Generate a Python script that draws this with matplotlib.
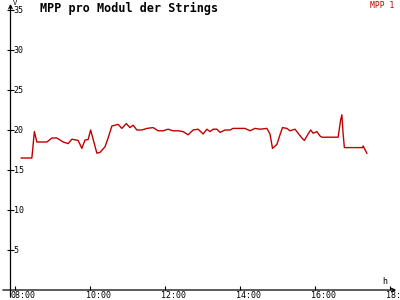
import matplotlib
matplotlib.use("Agg")
import matplotlib.pyplot as plt

# MPP pro Modul (V), Zeitpunkte als HH:MM
times = ["08:10", "08:27", "08:31", "08:35", "08:51", "08:59", "09:07", "09:17", "09:25", "09:31",
         "09:41", "09:47", "09:52", "09:57", "10:01", "10:11", "10:16", "10:24", "10:29", "10:35",
         "10:40", "10:45", "10:51", "10:58", "11:04", "11:09", "11:15", "11:23", "11:31", "11:41",
         "11:49", "11:57", "12:05", "12:13", "12:21", "12:29", "12:37", "12:45", "12:53", "13:01",
         "13:07", "13:12", "13:17", "13:23", "13:28", "13:36", "13:44", "13:49", "14:00", "14:08",
         "14:16", "14:24", "14:32", "14:43", "14:48", "14:52", "14:59", "15:04", "15:08", "15:15",
         "15:20", "15:28", "15:33", "15:39", "15:43", "15:49", "15:53", "15:57", "16:03", "16:08",
         "16:11", "16:37", "16:41", "16:43", "16:45", "16:47", "17:16", "17:17", "17:23"]
mpp1 = [16.5, 16.5, 19.8, 18.5, 18.5, 19.0, 19.0, 18.5, 18.3, 18.85,
        18.7, 17.7, 18.75, 18.8, 20.0, 17.1, 17.2, 17.9, 19.0, 20.5,
        20.6, 20.7, 20.2, 20.8, 20.3, 20.6, 20.0, 20.0, 20.2, 20.3,
        19.9, 19.9, 20.1, 19.9, 19.9, 19.8, 19.4, 20.0, 20.1, 19.5,
        20.1, 19.8, 20.1, 20.1, 19.7, 20.0, 20.0, 20.2, 20.2, 20.2,
        19.9, 20.2, 20.1, 20.2, 19.5, 17.7, 18.2, 19.4, 20.3, 20.2,
        19.9, 20.1, 19.6, 19.0, 18.7, 19.5, 20.0, 19.6, 19.8, 19.25,
        19.1, 19.1, 21.25, 21.9, 19.5, 17.8, 17.8, 18.0, 17.1]

x_ticks = [8, 10, 12, 14, 16, 18]
x_labels = ["08:00", "10:00", "12:00", "14:00", "16:00", "18:"]
y_ticks = [5, 10, 15, 20, 25, 30, 35]

hours = [int(t[:2]) + int(t[3:]) / 60 for t in times]

mono = "DejaVu Sans Mono"
red = "#c00000"

fig = plt.figure(figsize=(4, 3), dpi=100)
ax = fig.add_axes([0, 0, 1, 1])
ax.axis("off")
# 37.5 px per hour, 8 px per volt
ax.set_xlim(7.6, 7.6 + 400 / 37.5)
ax.set_ylim(-1.25, 36.25)

x0 = 7.6 + 10.5 / 37.5  # position of the y axis

# axes with arrows
ax.annotate("", xy=(7.6 + 399 / 37.5, 0), xytext=(7.6, 0),
            arrowprops=dict(arrowstyle="->", lw=0.9, color="black", mutation_scale=6))
ax.annotate("", xy=(x0, 36.1), xytext=(x0, -1.25),
            arrowprops=dict(arrowstyle="->", lw=0.9, color="black", mutation_scale=6))

ax.vlines(x_ticks, 0, 0.45, color="black", lw=0.8)
ax.hlines(y_ticks, x0 - 0.09, x0 + 0.09, color="black", lw=0.8)

for xt, lab in zip(x_ticks, x_labels):
    ax.text(xt - 0.11, -0.75, lab, family=mono, fontsize=6, ha="left", va="center")
for yt in y_ticks:
    ax.text(x0 + 0.09, yt - 0.1, str(yt), family=mono, fontsize=6, ha="left", va="center")

ax.text(x0 + 0.06, 35.9, "V", family=mono, fontsize=5, ha="left", va="center")
ax.text(7.6 + 385 / 37.5, 1.1, "h", family=mono, fontsize=6, ha="center", va="center")

ax.plot(hours, mpp1, color=red, lw=1.0)

fig.text(40 / 400, 1 - 8 / 300, "MPP pro Modul der Strings", family=mono, fontsize=8.5,
         fontweight="bold", ha="left", va="center")
fig.text(394 / 400, 1 - 5 / 300, "MPP 1", family=mono, fontsize=5.8, color=red,
         ha="right", va="center")

fig.savefig("out.png", dpi=100)
